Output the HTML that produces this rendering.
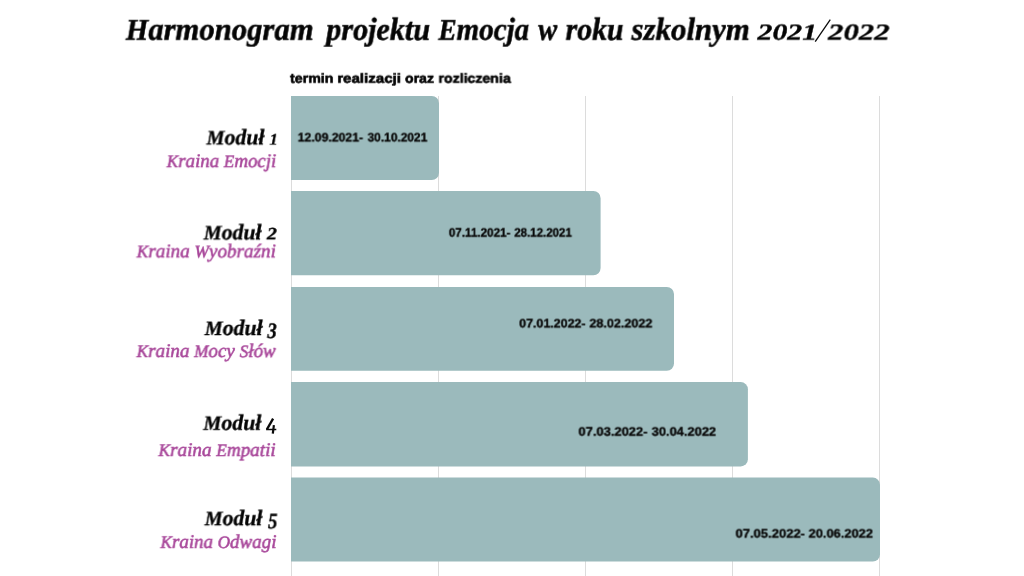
<!DOCTYPE html>
<html lang="pl"><head><meta charset="utf-8"><title>Harmonogram projektu Emocja</title>
<style>
html,body{margin:0;padding:0;background:#fff}
body{width:1024px;height:576px;position:relative;overflow:hidden;font-family:"Liberation Sans",sans-serif}
.g{position:absolute;top:96px;width:1px;height:480px;background:#dcdcdc}
.bar{position:absolute;left:291px;background:#9bbabc;border-radius:0 7px 7px 0}
#txt{position:absolute;left:0;top:0;width:1024px;height:576px}
span{position:absolute;left:0;top:0;line-height:1;white-space:pre;transform-origin:0 0;will-change:transform;text-rendering:geometricPrecision}
.tb{font-family:"Liberation Serif",serif;font-weight:bold;font-style:italic}
.ti{font-family:"Liberation Serif",serif;font-weight:normal;font-style:italic}
.sb{font-family:"Liberation Sans",sans-serif;font-weight:bold}
</style></head><body>
<div class="g" style="left:291px"></div><div class="g" style="left:438px"></div><div class="g" style="left:585px"></div><div class="g" style="left:732px"></div><div class="g" style="left:879px"></div>
<svg width="1024" height="576" style="position:absolute;left:0;top:0"><path fill="#9bbabc" d="M291 96H431.8A7.2 7.2 0 0 1 439 103.2V172.8A7.2 7.2 0 0 1 431.8 180H291Z"/><path fill="#9bbabc" d="M291 191H593.4A7.2 7.2 0 0 1 600.6 198.2V268.1A7.2 7.2 0 0 1 593.4 275.3H291Z"/><path fill="#9bbabc" d="M291 286.9H666.8A7.2 7.2 0 0 1 674 294.1V363.6A7.2 7.2 0 0 1 666.8 370.8H291Z"/><path fill="#9bbabc" d="M291 382.1H740.7A7.2 7.2 0 0 1 747.9 389.3V459.2A7.2 7.2 0 0 1 740.7 466.4H291Z"/><path fill="#9bbabc" d="M291 477.6H872.8A7.2 7.2 0 0 1 880 484.8V554.4A7.2 7.2 0 0 1 872.8 561.6H291Z"/></svg>
<div id="txt">
<svg width="1024" height="576" style="position:absolute;left:0;top:0"><line x1="815.2" y1="41.6" x2="830.3" y2="19.6" stroke="#0a0a0a" stroke-width="1.3"/><g stroke="#0a0a0a" fill="none"><path d="M273.1 418.7L266.9 429.3" stroke-width="2.3"/><path d="M266.1 429.5H276.3" stroke-width="1.5"/><path d="M273.9 425.2L272.8 433.7" stroke-width="2.2"/></g></svg>
<span class="tb" style="font-size:32.0px;color:#050505;-webkit-text-stroke:0.5px #050505;transform:translate(125.81px,12.75px) scaleX(0.9588) rotate(0.02deg)"><i style="font-size:0.94em">H</i>armonogram</span>
<span class="tb" style="font-size:32.0px;color:#050505;-webkit-text-stroke:0.5px #050505;transform:translate(326.24px,12.82px) scaleX(0.942) rotate(0.02deg)">projektu</span>
<span class="tb" style="font-size:32.0px;color:#050505;-webkit-text-stroke:0.5px #050505;transform:translate(438.41px,12.78px) scaleX(0.9075) rotate(0.02deg)"><i style="font-size:0.94em">E</i>mocja</span>
<span class="tb" style="font-size:32.0px;color:#050505;-webkit-text-stroke:0.5px #050505;transform:translate(538.24px,12.86px) scaleX(0.8864) rotate(0.02deg)">w</span>
<span class="tb" style="font-size:32.0px;color:#050505;-webkit-text-stroke:0.5px #050505;transform:translate(565.57px,12.79px) scaleX(0.9306) rotate(0.02deg)">roku</span>
<span class="tb" style="font-size:32.0px;color:#050505;-webkit-text-stroke:0.5px #050505;transform:translate(631.47px,12.81px) scaleX(0.9652) rotate(0.02deg)">szkolnym</span>
<span class="tb" style="font-size:24px;color:#050505;-webkit-text-stroke:0.35px #050505;transform:translate(757.48px,21.57px) scale(1.2432,0.9493) rotate(0.02deg)">2021</span>
<span class="tb" style="font-size:24px;color:#050505;-webkit-text-stroke:0.35px #050505;transform:translate(828.10px,21.59px) scale(1.2833,0.9493) rotate(0.02deg)">2022</span>
<span class="sb" style="font-size:13.2px;color:#050505;-webkit-text-stroke:0.6px #050505;transform:translate(290.11px,71.73px) scaleX(1.0763) rotate(0.02deg)">termin</span>
<span class="sb" style="font-size:13.2px;color:#050505;-webkit-text-stroke:0.6px #050505;transform:translate(337.21px,71.72px) scaleX(1.145) rotate(0.02deg)">realizacji</span>
<span class="sb" style="font-size:13.2px;color:#050505;-webkit-text-stroke:0.6px #050505;transform:translate(405.10px,71.75px) scaleX(1.0654) rotate(0.02deg)">oraz</span>
<span class="sb" style="font-size:13.2px;color:#050505;-webkit-text-stroke:0.6px #050505;transform:translate(438.54px,71.73px) scaleX(1.0706) rotate(0.02deg)">rozliczenia</span>
<span class="tb" style="font-size:22.0px;color:#050505;-webkit-text-stroke:0.35px #050505;transform:translate(206.61px,126.39px) scaleX(0.9874) rotate(0.02deg)"><i style="font-size:0.93em">M</i>oduł</span>
<span class="tb" style="font-size:20px;color:#050505;-webkit-text-stroke:0.35px #050505;transform:translate(269.44px,131.92px) scale(0.85,0.7855) rotate(0.02deg)">1</span>
<span class="tb" style="font-size:22.0px;color:#050505;-webkit-text-stroke:0.35px #050505;transform:translate(203.76px,221.39px) scaleX(0.9866) rotate(0.02deg)"><i style="font-size:0.93em">M</i>oduł</span>
<span class="tb" style="font-size:20px;color:#050505;-webkit-text-stroke:0.35px #050505;transform:translate(266.87px,225.47px) scale(1.0146,0.8655) rotate(0.02deg)">2</span>
<span class="tb" style="font-size:22.0px;color:#050505;-webkit-text-stroke:0.35px #050505;transform:translate(204.76px,316.99px) scaleX(0.9882) rotate(0.02deg)"><i style="font-size:0.93em">M</i>oduł</span>
<span class="tb" style="font-size:20px;color:#050505;-webkit-text-stroke:0.35px #050505;transform:translate(267.37px,320.02px) scale(0.94,1.1) rotate(0.02deg)">3</span>
<span class="tb" style="font-size:22.0px;color:#050505;-webkit-text-stroke:0.35px #050505;transform:translate(203.46px,411.79px) scaleX(0.9882) rotate(0.02deg)"><i style="font-size:0.93em">M</i>oduł</span>
<span class="tb" style="font-size:22.0px;color:#050505;-webkit-text-stroke:0.35px #050505;transform:translate(204.76px,507.20px) scaleX(0.9832) rotate(0.02deg)"><i style="font-size:0.93em">M</i>oduł</span>
<span class="tb" style="font-size:20px;color:#050505;-webkit-text-stroke:0.35px #050505;transform:translate(267.94px,510.37px) scale(0.9538,1.0982) rotate(0.02deg)">5</span>
<span class="ti" style="font-size:19.4px;color:#a8479a;-webkit-text-stroke:0.55px #a8479a;transform:translate(166.78px,152.13px) scaleX(0.9764) rotate(0.02deg)"><i style="font-size:0.9em">K</i>raina <i style="font-size:0.9em">E</i>mocji</span>
<span class="ti" style="font-size:19.4px;color:#a8479a;-webkit-text-stroke:0.55px #a8479a;transform:translate(136.73px,242.35px) scaleX(0.9883) rotate(0.02deg)"><i style="font-size:0.9em">K</i>raina <i style="font-size:0.9em">W</i>yobraźni</span>
<span class="ti" style="font-size:19.4px;color:#a8479a;-webkit-text-stroke:0.55px #a8479a;transform:translate(136.67px,342.03px) scaleX(0.9831) rotate(0.02deg)"><i style="font-size:0.9em">K</i>raina <i style="font-size:0.9em">M</i>ocy <i style="font-size:0.9em">S</i>łów</span>
<span class="ti" style="font-size:19.4px;color:#a8479a;-webkit-text-stroke:0.55px #a8479a;transform:translate(158.55px,441.02px) scaleX(0.9874) rotate(0.02deg)"><i style="font-size:0.9em">K</i>raina <i style="font-size:0.9em">E</i>mpatii</span>
<span class="ti" style="font-size:19.4px;color:#a8479a;-webkit-text-stroke:0.55px #a8479a;transform:translate(160.53px,532.93px) scaleX(0.9777) rotate(0.02deg)"><i style="font-size:0.9em">K</i>raina <i style="font-size:0.9em">O</i>dwagi</span>
<span class="sb" style="font-size:12.3px;color:#080808;-webkit-text-stroke:0.35px #080808;transform:translate(297.73px,131.47px) scaleX(0.9961) rotate(0.02deg)">12.09.2021-</span>
<span class="sb" style="font-size:12.3px;color:#080808;-webkit-text-stroke:0.35px #080808;transform:translate(367.61px,131.46px) scaleX(0.9698) rotate(0.02deg)">30.10.2021</span>
<span class="sb" style="font-size:12.3px;color:#080808;-webkit-text-stroke:0.35px #080808;transform:translate(448.85px,226.68px) scaleX(0.9488) rotate(0.02deg)">07.11.2021-</span>
<span class="sb" style="font-size:12.3px;color:#080808;-webkit-text-stroke:0.35px #080808;transform:translate(514.31px,226.64px) scaleX(0.9344) rotate(0.02deg)">28.12.2021</span>
<span class="sb" style="font-size:12.3px;color:#080808;-webkit-text-stroke:0.35px #080808;transform:translate(519.23px,317.48px) scaleX(1.0108) rotate(0.02deg)">07.01.2022-</span>
<span class="sb" style="font-size:12.3px;color:#080808;-webkit-text-stroke:0.35px #080808;transform:translate(589.44px,317.43px) scaleX(1.0246) rotate(0.02deg)">28.02.2022</span>
<span class="sb" style="font-size:12.3px;color:#080808;-webkit-text-stroke:0.35px #080808;transform:translate(578.51px,425.67px) scaleX(1.0508) rotate(0.02deg)">07.03.2022-</span>
<span class="sb" style="font-size:12.3px;color:#080808;-webkit-text-stroke:0.35px #080808;transform:translate(651.69px,425.67px) scaleX(1.0465) rotate(0.02deg)">30.04.2022</span>
<span class="sb" style="font-size:12.3px;color:#080808;-webkit-text-stroke:0.35px #080808;transform:translate(735.60px,527.59px) scaleX(1.0569) rotate(0.02deg)">07.05.2022-</span>
<span class="sb" style="font-size:12.3px;color:#080808;-webkit-text-stroke:0.35px #080808;transform:translate(808.62px,527.57px) scaleX(1.0443) rotate(0.02deg)">20.06.2022</span>
</div>
</body></html>
